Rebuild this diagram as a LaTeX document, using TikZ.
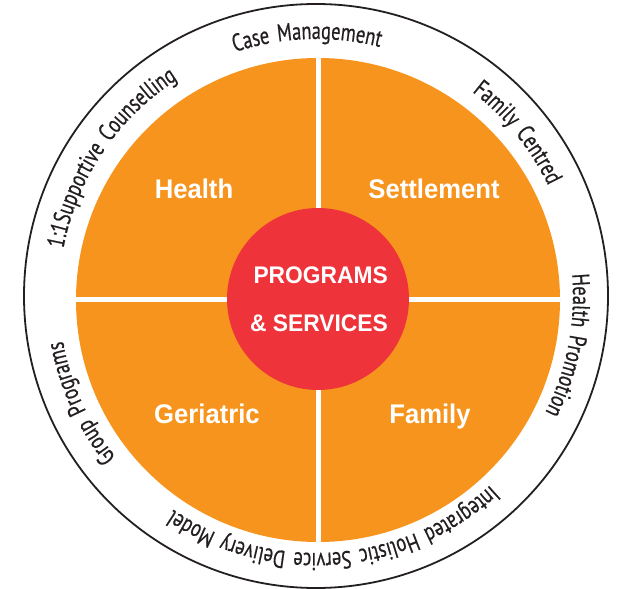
\documentclass[tikz,border=0pt]{standalone}
\usepackage{fontspec}
\usepackage{tikz}
\usetikzlibrary{positioning}
\usetikzlibrary{decorations.text}
\newfontfamily\labelfont[FakeStretch=0.95]{Liberation Sans}
\newfontfamily\ringfont[FakeStretch=0.75,FakeBold=0.6,WordSpace=1.6]{PT Sans}
\definecolor{progorange}{RGB}{247,148,30}
\definecolor{progred}{RGB}{238,52,58}
\definecolor{ringgray}{RGB}{35,31,32}
\tikzstyle{sector}=[text=white,inner sep=0pt,anchor=base,font=\labelfont\bfseries\fontsize{27}{27}\selectfont]
\tikzstyle{core}=[text=white,inner sep=0pt,anchor=base east,font=\labelfont\bfseries\fontsize{24}{24}\selectfont]
\tikzstyle{ring}=[decorate,decoration={text along path,text align=center,text color=ringgray}]
\newcommand{\rf}{\ringfont\fontsize{24.5}{24.5}\selectfont}

\begin{document}
\begin{tikzpicture}[x=1pt,y=1pt]
\useasboundingbox (-316,-292) rectangle (301,296);
% rim, quarters and core
\node[circle,draw=ringgray,line width=1.8pt,minimum size=584pt,inner sep=0pt] (rim) at (0,0) {};
\node[circle,fill=progorange,minimum size=484pt,inner sep=0pt] (disk) at (2,-4) {};
\draw[white,line width=5pt] (disk.north) -- (disk.south);
\draw[white,line width=5pt] (disk.west) -- (disk.east);
\node[circle,fill=progred,minimum size=182pt,inner sep=0pt] (core) at (2,-3) {};

\node[sector] (health) at (-122,97) {Health};
\node[sector] (settle) at (118,97) {Settlement};
\node[sector] (geri) at (-109,-127) {Geriatric};
\node[sector] (family) at (114,-127) {Family};
\node[core] (prog) at (72,12) {PROGRAMS};
\node[core] (serv) at (72,-36) {\&~SERVICES};

% words round the rim, clockwise
\path[ring,decoration={text={|\rf|Case Management}}] (152:257) arc[start angle=152,end angle=32,radius=257];
\path[ring,decoration={text={|\rf|Family Centred}}] (99:257) arc[start angle=99,end angle=-21,radius=257];
\path[ring,decoration={text={|\rf|Health Promotion}}] (49:257) arc[start angle=49,end angle=-71,radius=257];
\path[ring,decoration={text={|\rf|Integrated Holistic Service Delivery Model}}] (-25.5:257) arc[start angle=-25.5,end angle=-145.5,radius=257];
\path[ring,decoration={text={|\rf|Group Programs}}] (-95.5:257) arc[start angle=-95.5,end angle=-215.5,radius=257];
\path[ring,decoration={text={|\rf|1:1Supportive Counselling}}] (206:257) arc[start angle=206,end angle=86,radius=257];
\end{tikzpicture}
\end{document}
